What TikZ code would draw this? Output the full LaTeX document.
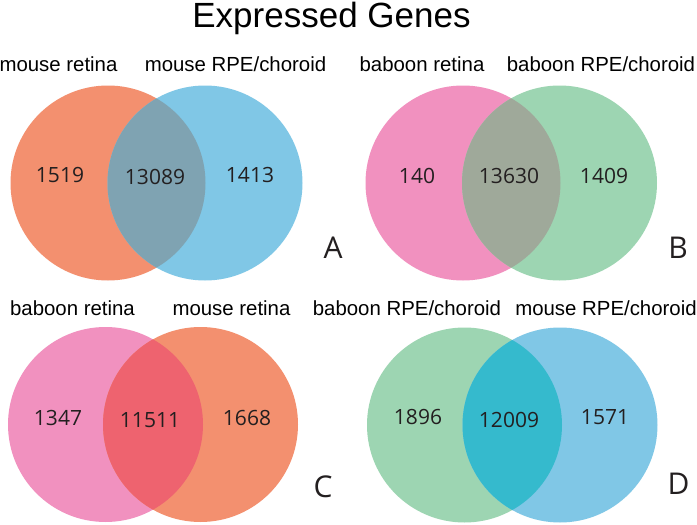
\documentclass[tikz,border=0pt]{standalone}
\usepackage{fontspec}
\setmainfont{Liberation Sans}
\newfontfamily\numfont{Open Sans}
\definecolor{mretina}{RGB}{243,144,111}
\definecolor{mrpe}{RGB}{128,199,230}
\definecolor{bretina}{RGB}{241,145,191}
\definecolor{brpe}{RGB}{157,213,178}
\definecolor{ovA}{RGB}{127,163,178}
\definecolor{ovB}{RGB}{159,169,154}
\definecolor{ovC}{RGB}{238,99,111}
\definecolor{ovD}{RGB}{53,186,205}
\definecolor{numtext}{RGB}{35,31,32}
\tikzset{
  setlabel/.style={anchor=base,inner sep=0pt,font=\fontsize{20.4}{24}\selectfont},
  count/.style={inner sep=0pt,text=numtext,font=\numfont\fontsize{21}{25}\selectfont},
  panel/.style={inner sep=0pt,text=numtext,font=\numfont\fontsize{30}{36}\selectfont},
}
\begin{document}
\begin{tikzpicture}[x=1pt,y=-1pt]
  \useasboundingbox[fill=white] (0,0) rectangle (697,525);
  \node[anchor=base,inner sep=0pt,font=\fontsize{35}{42}\selectfont] (title) at (331.5,27) {Expressed Genes};
  % (A): mouse retina vs mouse RPE/choroid
  \begin{scope}[shift={(108,183)}]
    \coordinate (cl) at (0,0);
    \coordinate (cr) at (97,0);
    \fill[mretina] (cl) circle (97.5);
    \fill[mrpe] (cr) circle (97.5);
    \begin{scope}
      \clip (cl) circle (97.5);
      \fill[ovA] (cr) circle (97.5);
    \end{scope}
    \node[setlabel] (al) at (-49.5,-112) {mouse retina};
    \node[setlabel] (ar) at (127.5,-112) {mouse RPE/choroid};
    \node[count] (an1) at (-48,-8) {1519};
    \node[count] (an2) at (47,-6) {13089};
    \node[count] (an3) at (142,-8) {1413};
    \node[panel] (ap) at (225,65) {A};
  \end{scope}
  % (B): baboon retina vs baboon RPE/choroid
  \begin{scope}[shift={(463,183)}]
    \coordinate (cl) at (0,0);
    \coordinate (cr) at (96.5,0);
    \fill[bretina] (cl) circle (97.5);
    \fill[brpe] (cr) circle (97.5);
    \begin{scope}
      \clip (cl) circle (97.5);
      \fill[ovB] (cr) circle (97.5);
    \end{scope}
    \node[setlabel] (bl) at (-41,-112) {baboon retina};
    \node[setlabel] (br) at (138,-112) {baboon RPE/choroid};
    \node[count] (bn1) at (-46,-7) {140};
    \node[count] (bn2) at (46,-7) {13630};
    \node[count] (bn3) at (141,-7) {1409};
    \node[panel] (bp) at (215,65) {B};
  \end{scope}
  % (C): baboon retina vs mouse retina
  \begin{scope}[shift={(105.5,424.5)}]
    \coordinate (cl) at (0,0);
    \coordinate (cr) at (95,0);
    \fill[bretina] (cl) circle (97.5);
    \fill[mretina] (cr) circle (97.5);
    \begin{scope}
      \clip (cl) circle (97.5);
      \fill[ovC] (cr) circle (97.5);
    \end{scope}
    \node[setlabel] (cl1) at (-33,-109.5) {baboon retina};
    \node[setlabel] (cr1) at (126,-109.5) {mouse retina};
    \node[count] (cn1) at (-47.5,-6.5) {1347};
    \node[count] (cn2) at (44.5,-4.5) {11511};
    \node[count] (cn3) at (141.5,-6.5) {1668};
    \node[panel] (cp) at (217.5,62) {C};
  \end{scope}
  % (D): baboon RPE/choroid vs mouse RPE/choroid
  \begin{scope}[shift={(464.5,425)}]
    \coordinate (cl) at (0,0);
    \coordinate (cr) at (95.5,0);
    \fill[brpe] (cl) circle (97.5);
    \fill[mrpe] (cr) circle (97.5);
    \begin{scope}
      \clip (cl) circle (97.5);
      \fill[ovD] (cr) circle (97.5);
    \end{scope}
    \node[setlabel] (dl) at (-57.5,-110) {baboon RPE/choroid};
    \node[setlabel] (dr) at (141.5,-110) {mouse RPE/choroid};
    \node[count] (dn1) at (-46.5,-8) {1896};
    \node[count] (dn2) at (44.5,-5) {12009};
    \node[count] (dn3) at (140.5,-8) {1571};
    \node[panel] (dp) at (214,59) {D};
  \end{scope}
\end{tikzpicture}
\end{document}
